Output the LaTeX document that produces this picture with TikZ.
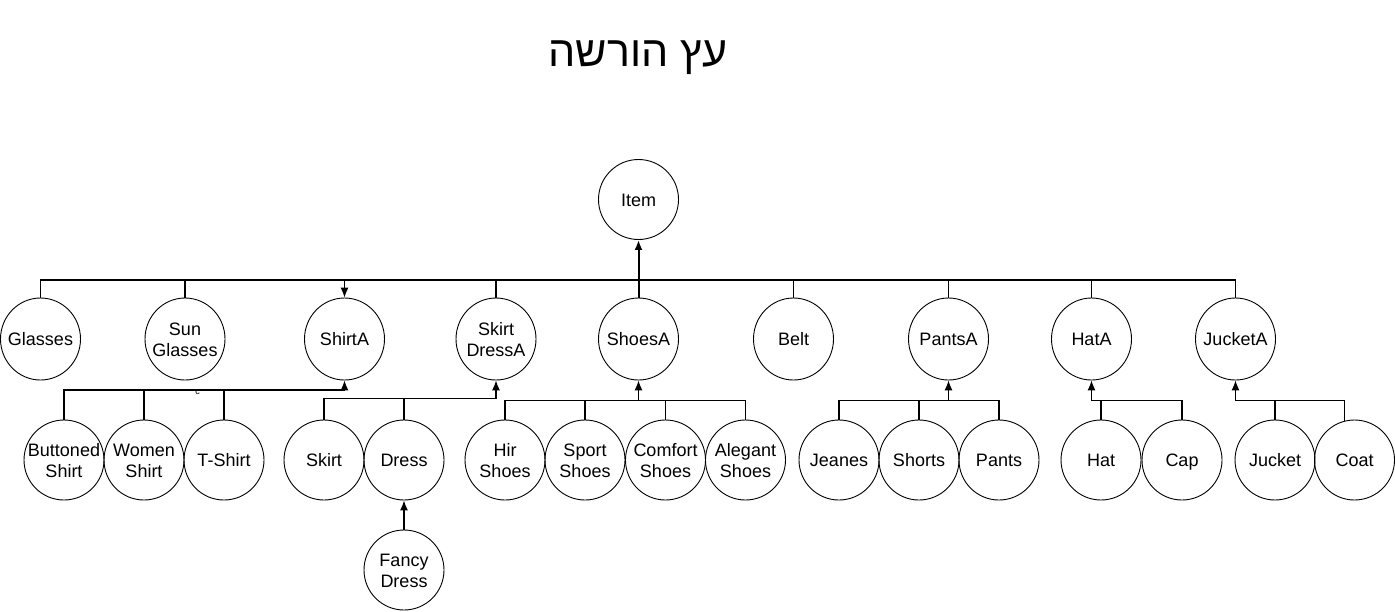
\documentclass[tikz,border=0pt]{standalone}
\usepackage{fontspec}
\setmainfont{Liberation Sans}
\newfontfamily\hebfont[Script=Hebrew]{Liberation Sans}
\TeXXeTstate=1
\usetikzlibrary{shapes.geometric,arrows.meta}
\newcommand{\lnS}[1]{#1\strut}
\begin{document}
\begin{tikzpicture}[x=1pt,y=-1pt,
  ci/.style={ellipse,draw,line width=0.9pt,minimum width=80pt,minimum height=80pt,inner sep=0pt},
  cj/.style={ci,minimum height=82pt},
  lbl/.style={align=center,inner sep=0pt,yshift=-2.5pt,font=\fontsize{18}{21}\selectfont},
  con/.style={line width=1.05pt,line join=miter},
  arr/.style={con,-{Latex[length=10pt,width=8pt]}}]
\useasboundingbox (0,0) rectangle (1395,611);
\node[anchor=base,inner sep=0pt] (title) at (638,66.7) {\hebfont\fontsize{43}{50}\selectfont\beginR עץ הורשה\endR};
% root
\node[ci,label={[lbl]center:\lnS{Item}}] (item) at (638.5,199.5) {};
% row 1
\node[cj,label={[lbl]center:\lnS{Glasses}}] (gl) at (40.5,339) {};
\node[cj,label={[lbl]center:\lnS{Sun}\\\lnS{Glasses}}] (sg) at (185,339) {};
\node[cj,label={[lbl]center:\lnS{ShirtA}}] (sa) at (344.5,339) {};
\node[cj,label={[lbl]center:\lnS{Skirt}\\\lnS{DressA}}] (sd) at (496,339) {};
\node[cj,label={[lbl]center:\lnS{ShoesA}}] (sh) at (638.5,339) {};
\node[cj,label={[lbl]center:\lnS{Belt}}] (be) at (793.5,339) {};
\node[cj,label={[lbl]center:\lnS{PantsA}}] (pa) at (948.5,339) {};
\node[cj,label={[lbl]center:\lnS{HatA}}] (ha) at (1091.5,339) {};
\node[cj,label={[lbl]center:\lnS{JucketA}}] (ja) at (1235.5,339) {};
% row 2
\node[ci,label={[lbl]center:\lnS{Buttoned}\\\lnS{Shirt}}] (bs) at (64,460) {};
\node[ci,label={[lbl]center:\lnS{Women}\\\lnS{Shirt}}] (ws) at (144,460) {};
\node[ci,label={[lbl]center:\lnS{T-Shirt}}] (ts) at (224,460) {};
\node[ci,label={[lbl]center:\lnS{Skirt}}] (sk) at (324,460) {};
\node[ci,label={[lbl]center:\lnS{Dress}}] (dr) at (404,460) {};
\node[ci,label={[lbl]center:\lnS{Fancy}\\\lnS{Dress}}] (fd) at (404,570) {};
\node[ci,label={[lbl]center:\lnS{Hir}\\\lnS{Shoes}}] (hs) at (505,460) {};
\node[ci,label={[lbl]center:\lnS{Sport}\\\lnS{Shoes}}] (ss) at (585,460) {};
\node[ci,label={[lbl]center:\lnS{Comfort}\\\lnS{Shoes}}] (cs) at (665.5,460) {};
\node[ci,label={[lbl]center:\lnS{Alegant}\\\lnS{Shoes}}] (as) at (745.5,460) {};
\node[ci,label={[lbl]center:\lnS{Jeanes}}] (je) at (839,460) {};
\node[ci,label={[lbl]center:\lnS{Shorts}}] (so) at (919,460) {};
\node[ci,label={[lbl]center:\lnS{Pants}}] (pn) at (999,460) {};
\node[ci,label={[lbl]center:\lnS{Hat}}] (hat) at (1101,460) {};
\node[ci,label={[lbl]center:\lnS{Cap}}] (cap) at (1182,460) {};
\node[ci,label={[lbl]center:\lnS{Jucket}}] (ju) at (1275,460) {};
\node[ci,label={[lbl]center:\lnS{Coat}}] (co) at (1354.5,460) {};
\node[inner sep=0pt,font=\fontsize{9}{9}\selectfont] (cm) at (197.5,392.5) {c};
% bus levels
\coordinate (b0) at (0,280);
\coordinate (b1) at (0,390);
\coordinate (b2) at (0,398.5);
\coordinate (b3) at (0,400.5);
% top level
\draw[con] (gl.north) -- (gl.north |- b0) -- (ja.north |- b0) -- (ja.north);
\draw[con] (sg.north) -- (sg.north |- b0);
\draw[con] (sd.north) -- (sd.north |- b0);
\draw[con] (be.north) -- (be.north |- b0);
\draw[con] (pa.north) -- (pa.north |- b0);
\draw[con] (ha.north) -- (ha.north |- b0);
\draw[arr] (sa.north |- b0) -- (sa.north);
\draw[con,line width=2pt,-{Latex[length=10pt,width=8pt]}] (sh.north) -- (item.south);
% shirts
\draw[arr] (bs.north) -- (bs.north |- b1) -- (sa.south |- b1) -- (sa.south);
\draw[con] (ws.north) -- (ws.north |- b1);
\draw[con] (ts.north) -- (ts.north |- b1);
% skirt / dress
\draw[arr] (sk.north) -- (sk.north |- b2) -- (sd.south |- b2) -- (sd.south);
\draw[con] (dr.north) -- (dr.north |- b2);
\draw[arr] (fd.north) -- (dr.south);
% shoes
\draw[con] (hs.north) -- (hs.north |- b3) -- (as.north |- b3) -- (as.north);
\draw[con] (ss.north) -- (ss.north |- b3);
\draw[con] (cs.north) -- (cs.north |- b3);
\draw[arr] (sh.south |- b3) -- (sh.south);
% pants
\draw[con] (je.north) -- (je.north |- b3) -- (pn.north |- b3) -- (pn.north);
\draw[con] (so.north) -- (so.north |- b3);
\draw[arr] (pa.south |- b3) -- (pa.south);
% hats
\draw[arr] (cap.north) -- (cap.north |- b3) -- (ha.south |- b3) -- (ha.south);
\draw[con] (hat.north) -- (hat.north |- b3);
% juckets
\draw[arr] (co.104) -- (co.104 |- b3) -- (ja.south |- b3) -- (ja.south);
\draw[con] (ju.north) -- (ju.north |- b3);
\end{tikzpicture}
\end{document}
